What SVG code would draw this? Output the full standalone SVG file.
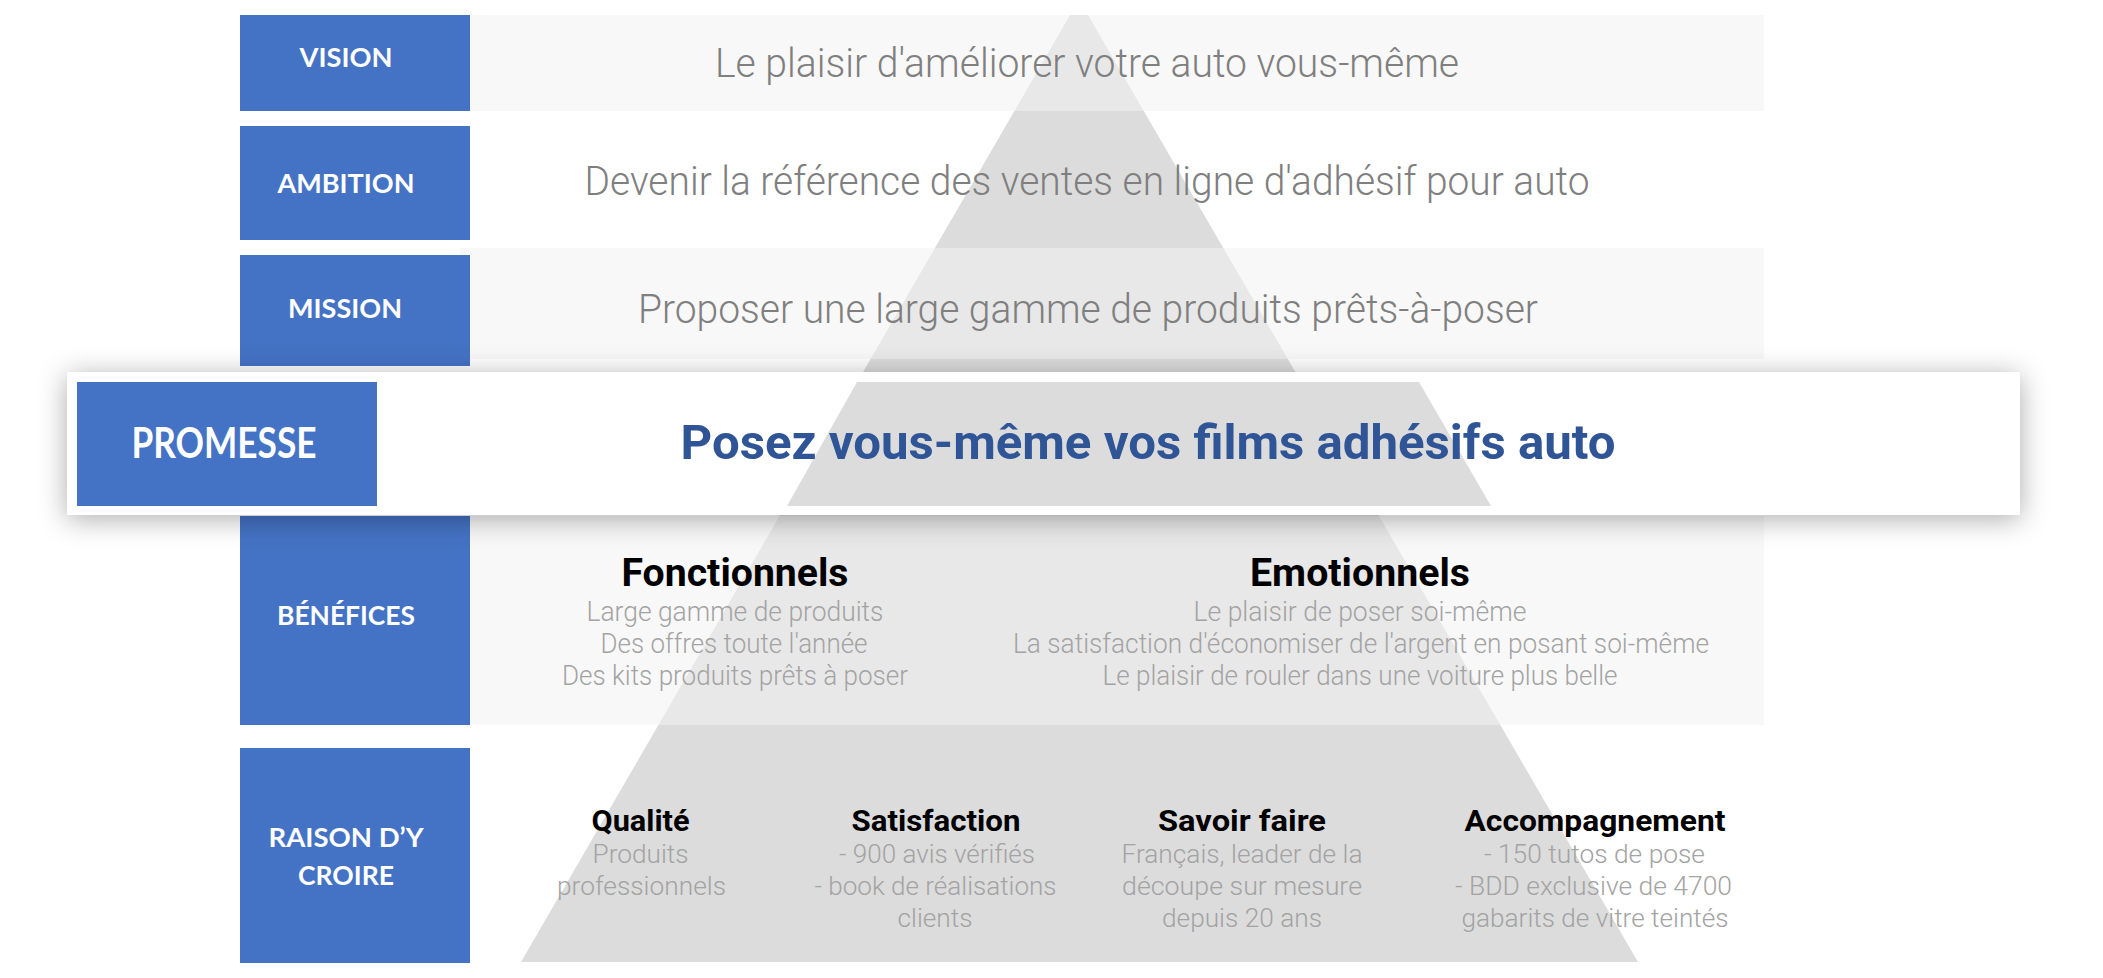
<svg xmlns="http://www.w3.org/2000/svg" width="2103" height="978" viewBox="0 0 2103 978">
  <defs>
    <style>
      .box { fill: #4472c4; }
      .lbl { font-family: Lato, "Liberation Sans", sans-serif; font-weight: 700; fill: #ffffff; font-size: 27px; text-anchor: middle; }
      .band { fill: #f2f2f2; fill-opacity: 0.55; }
      .row { font-family: Roboto, "Liberation Sans", sans-serif; font-weight: 300; fill: #7f7f7f; font-size: 40px; text-anchor: middle; }
      .ttl { font-family: Roboto, "Liberation Sans", sans-serif; font-weight: 700; fill: #000000; text-anchor: middle; }
      .sub { font-family: Roboto, "Liberation Sans", sans-serif; font-weight: 300; fill: #a3a3a3; text-anchor: middle; }
      .pyr { fill: #dcdcdc; }
    </style>
    <filter id="shadow" x="-5%" y="-50%" width="110%" height="200%">
      <feDropShadow dx="0" dy="4" stdDeviation="14" flood-color="#000000" flood-opacity="0.33"/>
    </filter>
  </defs>

  <rect x="0" y="0" width="2103" height="978" fill="#ffffff"/>

  <g id="pyramid">
    <polygon class="pyr" points="1070,15 1088,15 1638,962 521,962"/>
  </g>

  <g id="vision">
    <rect class="band" x="470" y="15" width="1294" height="96"/>
    <rect class="box" x="240" y="15" width="230" height="96"/>
    <text class="lbl" x="346" y="67" textLength="93" lengthAdjust="spacingAndGlyphs">VISION</text>
    <text class="row" x="1087" y="77" textLength="744" lengthAdjust="spacingAndGlyphs">Le plaisir d'améliorer votre auto vous-même</text>
  </g>

  <g id="ambition">
    <rect class="box" x="240" y="126" width="230" height="114"/>
    <text class="lbl" x="346" y="193" textLength="137" lengthAdjust="spacingAndGlyphs">AMBITION</text>
    <text class="row" x="1087" y="195" style="font-size:41px" textLength="1005" lengthAdjust="spacingAndGlyphs">Devenir la référence des ventes en ligne d'adhésif pour auto</text>
  </g>

  <g id="mission">
    <rect class="band" x="460" y="248" width="1304" height="111"/>
    <rect class="box" x="240" y="255" width="230" height="111"/>
    <text class="lbl" x="345" y="318" textLength="114" lengthAdjust="spacingAndGlyphs">MISSION</text>
    <text class="row" x="1088" y="323" textLength="900" lengthAdjust="spacingAndGlyphs">Proposer une large gamme de produits prêts-à-poser</text>
  </g>

  <g id="benefices">
    <rect class="band" x="470" y="516" width="1294" height="209"/>
    <rect class="box" x="240" y="516" width="230" height="209"/>
    <text class="lbl" x="346" y="625" textLength="138" lengthAdjust="spacingAndGlyphs">BÉNÉFICES</text>
    <text class="ttl" x="735" y="586" font-size="39" textLength="227" lengthAdjust="spacingAndGlyphs">Fonctionnels</text>
    <text class="sub" x="735" y="621" font-size="27" textLength="297" lengthAdjust="spacingAndGlyphs">Large gamme de produits</text>
    <text class="sub" x="734" y="653" font-size="27" textLength="267" lengthAdjust="spacingAndGlyphs">Des offres toute l'année</text>
    <text class="sub" x="735" y="685" font-size="27" textLength="346" lengthAdjust="spacingAndGlyphs">Des kits produits prêts à poser</text>
    <text class="ttl" x="1360" y="586" font-size="39" textLength="220" lengthAdjust="spacingAndGlyphs">Emotionnels</text>
    <text class="sub" x="1360" y="621" font-size="27" textLength="333" lengthAdjust="spacingAndGlyphs">Le plaisir de poser soi-même</text>
    <text class="sub" x="1361" y="653" font-size="27" textLength="696" lengthAdjust="spacingAndGlyphs">La satisfaction d'économiser de l'argent en posant soi-même</text>
    <text class="sub" x="1360" y="685" font-size="27" textLength="515" lengthAdjust="spacingAndGlyphs">Le plaisir de rouler dans une voiture plus belle</text>
  </g>

  <g id="raison">
    <rect class="box" x="240" y="748" width="230" height="215"/>
    <text class="lbl" x="346" y="847" textLength="155" lengthAdjust="spacingAndGlyphs">RAISON D’Y</text>
    <text class="lbl" x="346" y="885" textLength="96" lengthAdjust="spacingAndGlyphs">CROIRE</text>

    <text class="ttl" x="640.5" y="831" font-size="30" textLength="98" lengthAdjust="spacingAndGlyphs">Qualité</text>
    <text class="sub" x="640.5" y="863" font-size="26" textLength="96" lengthAdjust="spacingAndGlyphs">Produits</text>
    <text class="sub" x="641.5" y="895" font-size="26" textLength="169" lengthAdjust="spacingAndGlyphs">professionnels</text>

    <text class="ttl" x="936" y="831" font-size="30" textLength="169" lengthAdjust="spacingAndGlyphs">Satisfaction</text>
    <text class="sub" x="937" y="863" font-size="26" textLength="196" lengthAdjust="spacingAndGlyphs">- 900 avis vérifiés</text>
    <text class="sub" x="935.5" y="895" font-size="26" textLength="242" lengthAdjust="spacingAndGlyphs">- book de réalisations</text>
    <text class="sub" x="935" y="927" font-size="26" textLength="75" lengthAdjust="spacingAndGlyphs">clients</text>

    <text class="ttl" x="1242" y="831" font-size="30" textLength="168" lengthAdjust="spacingAndGlyphs">Savoir faire</text>
    <text class="sub" x="1242" y="863" font-size="26" textLength="241" lengthAdjust="spacingAndGlyphs">Français, leader de la</text>
    <text class="sub" x="1242" y="895" font-size="26" textLength="240" lengthAdjust="spacingAndGlyphs">découpe sur mesure</text>
    <text class="sub" x="1242" y="927" font-size="26" textLength="160" lengthAdjust="spacingAndGlyphs">depuis 20 ans</text>

    <text class="ttl" x="1595" y="831" font-size="30" textLength="261" lengthAdjust="spacingAndGlyphs">Accompagnement</text>
    <text class="sub" x="1594.5" y="863" font-size="26" textLength="221" lengthAdjust="spacingAndGlyphs">- 150 tutos de pose</text>
    <text class="sub" x="1593.5" y="895" font-size="26" textLength="277" lengthAdjust="spacingAndGlyphs">- BDD exclusive de 4700</text>
    <text class="sub" x="1595" y="927" font-size="26" textLength="267" lengthAdjust="spacingAndGlyphs">gabarits de vitre teintés</text>
  </g>

  <g id="promesse">
    <rect x="67" y="372" width="1953" height="143" fill="#ffffff" filter="url(#shadow)"/>
    <polygon class="pyr" points="857,382 1419,382 1491,506 787,506"/>
    <rect class="box" x="77" y="382" width="300" height="124"/>
    <text class="lbl" x="224" y="458" style="font-size:42px" textLength="185" lengthAdjust="spacingAndGlyphs">PROMESSE</text>
    <text x="1148" y="459" font-family="Roboto, 'Liberation Sans', sans-serif" font-weight="700" font-size="49" fill="#2f5597" text-anchor="middle" textLength="935" lengthAdjust="spacingAndGlyphs">Posez vous-même vos films adhésifs auto</text>
  </g>
</svg>
